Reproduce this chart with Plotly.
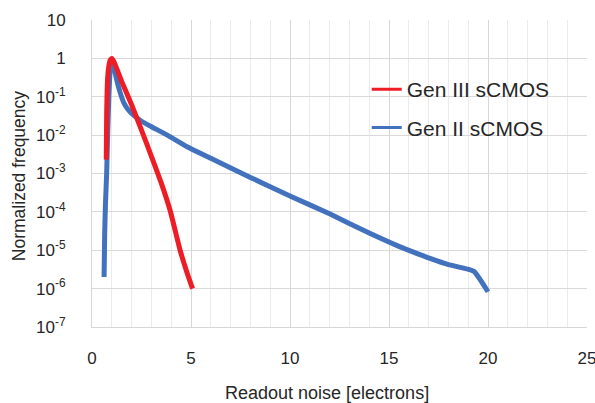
import plotly.graph_objects as go

# ---- data ----
gen3_x = [0.72, 0.74, 0.79, 0.85, 0.92, 1.0, 1.1, 1.25, 1.5, 1.75, 2.0, 2.5, 3.0, 3.5, 3.95, 4.45, 4.8, 5.08]
gen3_y = [2.3e-3, 0.034, 0.31, 0.63, 0.91, 1.0, 0.83, 0.54, 0.25, 0.125, 0.062, 0.0135, 2.8e-3, 5.6e-4, 1.07e-4, 1.0e-5, 2.6e-6, 1.0e-6]

gen2_x = [0.61, 0.64, 0.68, 0.74, 0.78, 0.85, 0.92, 1.0, 1.1, 1.22, 1.4, 1.6, 1.8, 2.1, 2.5, 3.0, 3.8, 4.8, 6.0, 8.0,
          10.0, 12.0, 14.0, 15.5, 16.5, 17.0, 18.0, 19.0, 19.3, 20.0]
gen2_y = [2.0e-6, 2.5e-5, 1.6e-4, 1.0e-3, 6.3e-3, 0.1, 0.5, 0.95, 0.63, 0.32, 0.14, 0.071, 0.048, 0.033, 0.023, 0.0166,
          0.010, 0.0050, 0.0025, 7.9e-4, 2.6e-4, 8.9e-5, 2.8e-5, 1.26e-5, 7.9e-6, 6.3e-6, 4.2e-6, 3.2e-6, 2.8e-6, 8.3e-7]

series_names = ["Gen III sCMOS", "Gen II sCMOS"]
series_colors = ["#ee1c25", "#4271bd"]

x_tickvals = [0, 5, 10, 15, 20, 25]
y_tickvals = [1e1, 1e0, 1e-1, 1e-2, 1e-3, 1e-4, 1e-5, 1e-6, 1e-7]
y_ticktext = ["10", "1", "10<sup>-1</sup>", "10<sup>-2</sup>", "10<sup>-3</sup>", "10<sup>-4</sup>",
              "10<sup>-5</sup>", "10<sup>-6</sup>", "10<sup>-7</sup>"]

x_title = "Readout noise [electrons]"
y_title = "Normalized frequency"

FONT = "Arial, 'Liberation Sans', sans-serif"
TXT = "#262626"

fig = go.Figure()

# main curves (blue below, red on top)
fig.add_trace(go.Scatter(x=gen2_x, y=gen2_y, mode="lines", showlegend=False,
                         line=dict(color=series_colors[1], width=5, shape="spline", smoothing=0.5)))
fig.add_trace(go.Scatter(x=gen3_x, y=gen3_y, mode="lines", showlegend=False,
                         line=dict(color=series_colors[0], width=5, shape="spline", smoothing=0.5)))

# legend entries (thinner sample lines)
for name, col in zip(series_names, series_colors):
    fig.add_trace(go.Scatter(x=[None], y=[None], mode="lines", name=name, legendgroup=name,
                             line=dict(color=col, width=3)))

fig.update_layout(
    width=595, height=403,
    margin=dict(l=92, r=8, t=20, b=76, autoexpand=False),
    paper_bgcolor="white", plot_bgcolor="white",
    font=dict(family=FONT, color=TXT, size=17),
    showlegend=True,
    legend=dict(x=0.555, y=0.84, xanchor="left", yanchor="top",
                bgcolor="rgba(0,0,0,0)", borderwidth=0,
                font=dict(size=21, color=TXT, family=FONT),
                tracegroupgap=8, itemwidth=30),
    xaxis=dict(range=[0, 25], tickvals=x_tickvals, showgrid=True, gridcolor="#d6d6d6", gridwidth=1,
               minor=dict(dtick=1, showgrid=True, gridcolor="#ebebeb", gridwidth=1),
               showline=True, linecolor="#d6d6d6", linewidth=1, zeroline=False, automargin=False,
               ticks="", ticklabelstandoff=16, ticklabeloverflow="allow",
               tickfont=dict(size=17, color=TXT)),
    yaxis=dict(type="log", range=[-7, 1], tickvals=y_tickvals, ticktext=y_ticktext,
               showgrid=True, gridcolor="#d9d9d9", gridwidth=1,
               showline=True, linecolor="#d6d6d6", linewidth=1, zeroline=False, automargin=False,
               ticks="", ticklabelstandoff=22, ticklabeloverflow="allow",
               tickfont=dict(size=17, color=TXT)),
    shapes=[dict(type="rect", xref="paper", yref="paper",
                 x0=(328 - 92) / 495, x1=(567 - 92) / 495,
                 y0=(326.7 - 170) / 306.7, y1=(326.7 - 61) / 306.7,
                 fillcolor="white", line=dict(width=0), layer="between")],
    annotations=[
        dict(text=x_title, xref="paper", yref="paper", x=(327 - 92) / 495, y=(326.7 - 393) / 306.7,
             xanchor="center", yanchor="middle", showarrow=False, font=dict(size=18, color=TXT)),
        dict(text=y_title, xref="paper", yref="paper", x=(19 - 92) / 495, y=(326.7 - 176) / 306.7,
             xanchor="center", yanchor="middle", textangle=-90, showarrow=False,
             font=dict(size=17.5, color=TXT)),
    ],
)

fig.write_html("out.html", post_script="document.body.style.margin='0';",
               config={"displayModeBar": False})
